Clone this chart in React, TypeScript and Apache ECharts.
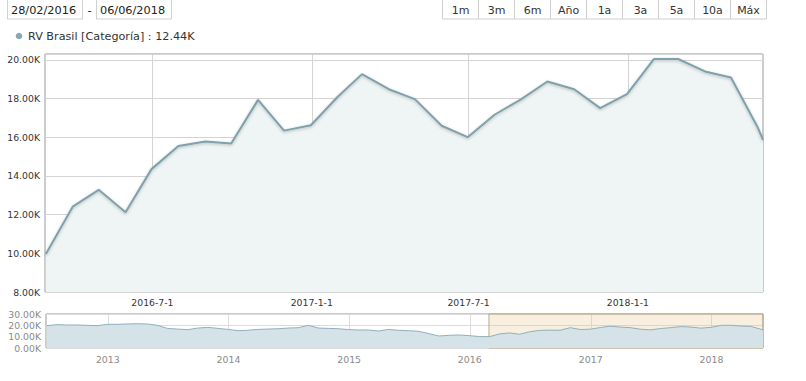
import React, { useEffect, useRef } from 'react';
import * as echarts from 'echarts';

const mainDates = [
  '2016-02-29', '2016-03-31', '2016-04-30', '2016-05-31', '2016-06-30', '2016-07-31', '2016-08-31',
  '2016-09-30', '2016-10-31', '2016-11-30', '2016-12-31', '2017-01-31', '2017-02-28', '2017-03-31',
  '2017-04-30', '2017-05-31', '2017-06-30', '2017-07-31', '2017-08-31', '2017-09-30', '2017-10-31',
  '2017-11-30', '2017-12-31', '2018-01-31', '2018-02-28', '2018-03-31', '2018-04-30', '2018-05-31',
  '2018-06-06',
];
const mainValues = [
  9970, 12410, 13280, 12120, 14350, 15550, 15780,
  15670, 17930, 16340, 16620, 18090, 19260, 18480,
  17970, 16590, 16000, 17160, 17970, 18880, 18480,
  17500, 18230, 20040, 20040, 19400, 19090, 16500,
  15860,
];

const histDates = [
  '2012-06-30', '2012-07-31', '2012-08-31', '2012-09-30', '2012-10-31', '2012-11-30', '2012-12-31',
  '2013-01-31', '2013-02-28', '2013-03-31', '2013-04-30', '2013-05-31', '2013-06-30',
  '2013-07-31', '2013-08-31', '2013-09-30', '2013-10-31', '2013-11-30', '2013-12-31',
  '2014-01-31', '2014-02-28', '2014-03-31', '2014-04-30', '2014-05-31', '2014-06-30',
  '2014-07-31', '2014-08-31', '2014-09-30', '2014-10-31', '2014-11-30', '2014-12-31',
  '2015-01-31', '2015-02-28', '2015-03-31', '2015-04-30', '2015-05-31', '2015-06-30',
  '2015-07-31', '2015-08-31', '2015-09-30', '2015-10-31', '2015-11-30', '2015-12-31',
  '2016-01-31',
];
const histValues = [
  19700, 20600, 20300, 20300, 20000, 19700, 20900,
  20900, 21200, 21400, 21200, 20000, 17300,
  16700, 16200, 17600, 18200, 17300, 16400,
  15300, 15600, 16400, 16700, 17000, 17600,
  17900, 20000, 17600, 17300, 17000, 16200,
  15900, 15900, 15000, 16400, 15600, 15300,
  14700, 12600, 10600, 11200, 11500, 10900,
  10100,
];

const mainTickDates = ['2016-07-01', '2017-01-01', '2017-07-01', '2018-01-01'];
const navTickDates = ['2013-01-01', '2014-01-01', '2015-01-01', '2016-01-01', '2017-01-01', '2018-01-01'];

const rangeButtons = ['1m', '3m', '6m', 'Año', '1a', '3a', '5a', '10a', 'Máx'];
const startLabel = '28/02/2016';
const endLabel = '06/06/2018';
const seriesName = 'RV Brasil [Categoría]';
const legendValue = '12.44K';

const MAIN_MIN = '2016-02-28';
const MAIN_MAX = '2018-06-06';
const NAV_MIN = '2012-06-28';
const NAV_MAX = '2018-06-06';

const FONT = 'DejaVu Sans';

const ts = (s: string) => {
  const [y, m, d] = s.split('-').map(Number);
  return Date.UTC(y, m - 1, d);
};

const fmtK = (v: number) => (v / 1000).toFixed(2) + 'K';

export default function App() {
  const ref = useRef<HTMLDivElement>(null);

  useEffect(() => {
    if (!ref.current) return;
    const chart = echarts.init(ref.current, undefined, { renderer: 'svg' });

    const mainData = mainDates.map((d, i) => [ts(d), mainValues[i]]);
    const navData = histDates
      .map((d, i) => [ts(d), histValues[i]])
      .concat(mainData);

    const graphic: any[] = [];
    graphic.push({
      type: 'rect', shape: { x: 7.5, y: -1, width: 75, height: 20 },
      style: { fill: '#fff', stroke: '#d0d0d0', lineWidth: 1 },
    });
    graphic.push({
      type: 'text', x: 11, y: 10,
      style: { text: startLabel, font: `11.3px ${FONT}`, fill: '#222', verticalAlign: 'middle' },
    });
    graphic.push({
      type: 'text', x: 89.5, y: 10,
      style: { text: '-', font: `11.3px ${FONT}`, fill: '#222', align: 'center', verticalAlign: 'middle' },
    });
    graphic.push({
      type: 'rect', shape: { x: 96.5, y: -1, width: 75, height: 20 },
      style: { fill: '#fff', stroke: '#d0d0d0', lineWidth: 1 },
    });
    graphic.push({
      type: 'text', x: 100, y: 10,
      style: { text: endLabel, font: `11.3px ${FONT}`, fill: '#222', verticalAlign: 'middle' },
    });
    rangeButtons.forEach((b, i) => {
      const x = 442.5 + 36 * i;
      graphic.push({
        type: 'rect', shape: { x, y: -1, width: 36, height: 20 },
        style: { fill: '#fff', stroke: '#cfcfcf', lineWidth: 1 },
      });
      graphic.push({
        type: 'text', x: x + 18, y: 10,
        style: { text: b, font: `11px ${FONT}`, fill: '#333', align: 'center', verticalAlign: 'middle' },
      });
    });
    graphic.push({
      type: 'circle', shape: { cx: 19, cy: 36, r: 3.3 },
      style: { fill: '#8aa9b3' },
    });
    graphic.push({
      type: 'text', x: 28, y: 36,
      style: { text: `${seriesName} : ${legendValue}`, font: `11.2px ${FONT}`, fill: '#333', verticalAlign: 'middle' },
    });

    chart.setOption({
      animation: false,
      backgroundColor: '#ffffff',
      textStyle: { fontFamily: FONT },
      graphic,
      grid: [
        { left: 45, right: 43, top: 54, bottom: 89, show: true, borderColor: '#999', borderWidth: 1, backgroundColor: '#fff' },
        { left: 46, right: 43, top: 314, bottom: 33, show: true, borderColor: '#999', borderWidth: 1, backgroundColor: '#fff' },
      ],
      xAxis: [
        {
          type: 'value', gridIndex: 0, min: ts(MAIN_MIN), max: ts(MAIN_MAX),
          axisLine: { show: false },
          axisTick: { show: false, customValues: mainTickDates.map(ts) },
          axisLabel: {
            customValues: mainTickDates.map(ts),
            color: '#333', fontSize: 9.3, fontFamily: FONT, margin: 6,
            formatter: (v: number) => {
              const d = new Date(v);
              return `${d.getUTCFullYear()}-${d.getUTCMonth() + 1}-${d.getUTCDate()}`;
            },
          },
          splitLine: { show: true, lineStyle: { color: '#d4d4d4', width: 1 } },
        },
        {
          type: 'value', gridIndex: 1, min: ts(NAV_MIN), max: ts(NAV_MAX),
          axisLine: { show: false },
          axisTick: { show: false, customValues: navTickDates.map(ts) },
          axisLabel: {
            customValues: navTickDates.map(ts),
            color: '#8a8a8a', fontSize: 9.4, fontFamily: FONT, margin: 7,
            formatter: (v: number) => `${new Date(v).getUTCFullYear()}`,
          },
          splitLine: { show: true, lineStyle: { color: '#dcdcdc', width: 1 } },
        },
      ],
      yAxis: [
        {
          type: 'value', gridIndex: 0, min: 8000, max: 20300, interval: 2000,
          axisLine: { show: false }, axisTick: { show: false },
          axisLabel: { color: '#333', fontSize: 9.3, fontFamily: FONT, margin: 5, showMaxLabel: false, formatter: fmtK },
          splitLine: { show: true, lineStyle: { color: '#d4d4d4', width: 1 } },
        },
        {
          type: 'value', gridIndex: 1, min: 0, max: 30000, interval: 10000,
          axisLine: { show: false }, axisTick: { show: false },
          axisLabel: { color: '#8a8a8a', fontSize: 9.3, fontFamily: FONT, margin: 5, formatter: fmtK },
          splitLine: { show: true, lineStyle: { color: '#dcdcdc', width: 1 } },
        },
      ],
      series: [
        {
          type: 'line', name: seriesName, xAxisIndex: 0, yAxisIndex: 0,
          data: mainData, symbol: 'none', smooth: false,
          lineStyle: { color: '#7ea1ab', width: 2, shadowColor: 'rgba(0,0,0,0.25)', shadowBlur: 3, shadowOffsetY: 1 },
          areaStyle: { color: '#eff4f5', opacity: 1 },
          z: 3,
        },
        {
          type: 'line', name: seriesName, xAxisIndex: 1, yAxisIndex: 1,
          data: navData, symbol: 'none',
          lineStyle: { color: '#8fb0bb', width: 1 },
          areaStyle: { color: '#d5e3e8', opacity: 1 },
          markArea: {
            silent: true,
            itemStyle: { color: 'rgba(232,196,148,0.28)', borderColor: '#bba98a', borderWidth: 1 },
            data: [[{ xAxis: ts(MAIN_MIN) }, { xAxis: ts(MAIN_MAX) }]],
          },
        },
      ],
    });

    return () => chart.dispose();
  }, []);

  return (
    <div
      ref={ref}
      style={{ position: 'fixed', left: 0, top: 0, width: 806, height: 381, background: '#fff' }}
    />
  );
}
